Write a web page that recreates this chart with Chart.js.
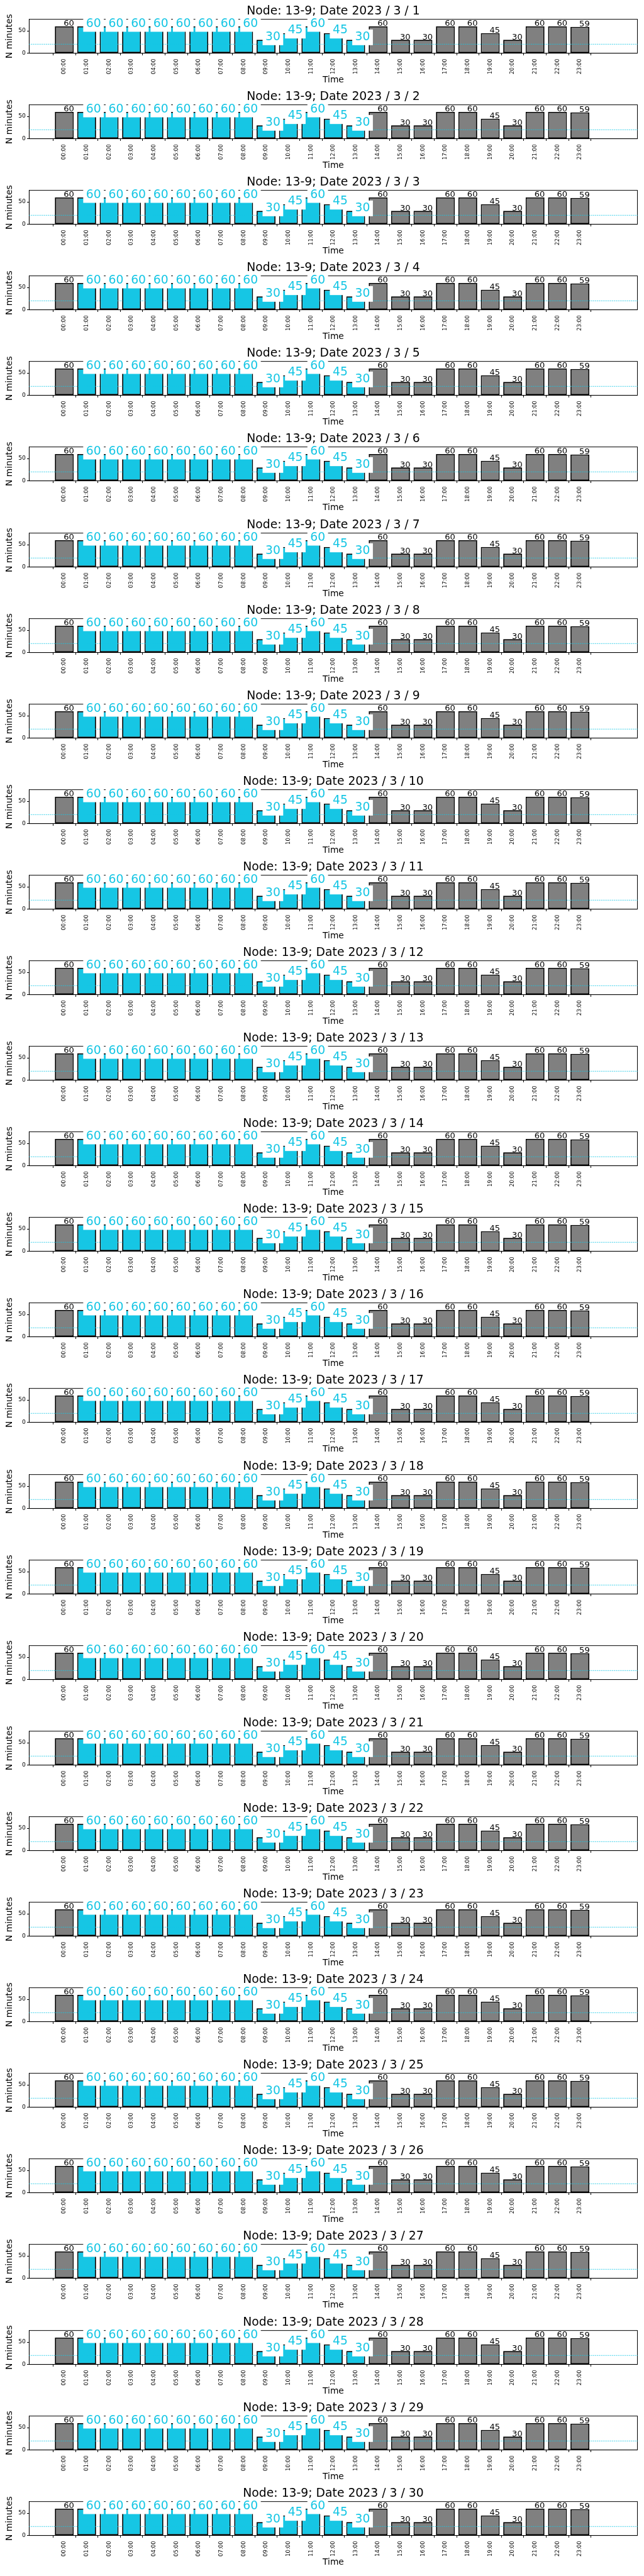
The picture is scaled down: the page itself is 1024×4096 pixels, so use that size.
<!DOCTYPE html>
<html>
<head>
<meta charset="utf-8">
<script src="https://cdn.jsdelivr.net/npm/chart.js@4"></script>
<style>
  html, body { margin: 0; padding: 0; background: #fff; }
  #charts { position: relative; width: 1024px; height: 4096px; }
  .panel { position: absolute; left: 0; width: 1024px; height: 136px; }
</style>
</head>
<body>
<div id="charts"></div>
<script>
const node = '13-9';
const days = [1, 2, 3, 4, 5, 6, 7, 8, 9, 10, 11, 12, 13, 14, 15,
              16, 17, 18, 19, 20, 21, 22, 23, 24, 25, 26, 27, 28, 29, 30];
const hours = ['00:00', '01:00', '02:00', '03:00', '04:00', '05:00', '06:00', '07:00',
               '08:00', '09:00', '10:00', '11:00', '12:00', '13:00', '14:00', '15:00',
               '16:00', '17:00', '18:00', '19:00', '20:00', '21:00', '22:00', '23:00'];
const minutes = [60, 60, 60, 60, 60, 60, 60, 60, 60, 30, 45, 60,
                 45, 30, 60, 30, 30, 60, 60, 45, 30, 60, 60, 59];
// hours drawn in cyan with a boxed label
const flagged = [0, 1, 1, 1, 1, 1, 1, 1, 1, 1, 1, 1,
                 1, 1, 0, 0, 0, 0, 0, 0, 0, 0, 0, 0];
const threshold = 20;
const yTicks = [0, 50];
const yMax = 76;

const S = 0.682;
const BAND = 199.55 * S;
const CYAN = '#16c6e4';
const GREY = '#808080';
const FONT = "'DejaVu Sans', sans-serif";

Chart.defaults.font.family = FONT;
Chart.defaults.color = '#000';

// frame, dotted reference line and bar labels
const overlay = {
    id: 'overlay',
    beforeDatasetsDraw(chart) {
        const { ctx, chartArea: a } = chart;
        ctx.save();
        ctx.strokeStyle = '#000';
        ctx.lineWidth = 1;
        ctx.strokeRect(a.left, a.top, a.right - a.left, a.bottom - a.top);
        ctx.restore();
    },
    afterDatasetsDraw(chart) {
        const { ctx, chartArea: a, scales } = chart;
        const bars = chart.getDatasetMeta(0).data;
        ctx.save();
        const ty = scales.y.getPixelForValue(threshold);
        ctx.strokeStyle = CYAN;
        ctx.lineWidth = 1.3;
        ctx.setLineDash([1.2, 1.8]);
        ctx.beginPath();
        ctx.moveTo(a.left, ty);
        ctx.lineTo(a.right, ty);
        ctx.stroke();
        ctx.setLineDash([]);

        ctx.textAlign = 'left';
        ctx.textBaseline = 'alphabetic';
        bars.forEach((bar, i) => {
            const txt = String(minutes[i]);
            if (flagged[i]) {
                ctx.fillStyle = '#fff';
                ctx.fillRect(bar.x - 5.5, bar.y - 16.5, 32.8, 25);
                ctx.fillStyle = CYAN;
                ctx.font = '18.8px ' + FONT;
                ctx.fillText(txt, bar.x - 1, bar.y + 0.5);
            } else {
                ctx.fillStyle = '#000';
                ctx.font = '13.1px ' + FONT;
                ctx.fillText(txt, bar.x - 1, bar.y - 0.7);
            }
        });
        ctx.restore();
    }
};

const host = document.getElementById('charts');

days.forEach((day, k) => {
    const wrap = document.createElement('div');
    wrap.className = 'panel';
    wrap.style.top = (k * BAND) + 'px';
    const cv = document.createElement('canvas');
    cv.width = 1024;
    cv.height = 136;
    wrap.appendChild(cv);
    host.appendChild(wrap);

    new Chart(cv, {
        type: 'bar',
        data: {
            datasets: [{
                data: minutes.map((v, i) => ({ x: i, y: v })),
                backgroundColor: flagged.map(f => f ? CYAN : GREY),
                borderColor: '#000',
                borderWidth: 1.8,
                borderSkipped: false,
                barPercentage: 0.84,
                categoryPercentage: 1.0
            }]
        },
        options: {
            responsive: false,
            animation: false,
            events: [],
            layout: { padding: { left: 0, right: 10.5, top: 0, bottom: 0 } },
            plugins: {
                legend: { display: false },
                tooltip: { enabled: false },
                title: {
                    display: true,
                    fullSize: false,
                    text: `Node: ${node}; Date 2023 / 3 / ${day}`,
                    color: '#000',
                    font: { size: 18.8, weight: 'normal' },
                    padding: { top: 7.1, bottom: 1 }
                }
            },
            scales: {
                x: {
                    type: 'linear',
                    min: -1,
                    max: 25,
                    afterBuildTicks: ax => { ax.ticks = hours.map((h, i) => ({ value: i })); },
                    afterFit: ax => { ax.height = 51.4; },
                    ticks: {
                        callback: (v, i) => hours[i],
                        autoSkip: false,
                        minRotation: 90,
                        maxRotation: 90,
                        padding: 5.4,
                        font: { size: 8.5 },
                        color: '#000'
                    },
                    grid: { drawOnChartArea: false, drawTicks: true, tickLength: 3.4, tickColor: '#000', tickWidth: 1 },
                    border: { display: true, color: '#000', width: 1 },
                    title: { display: true, text: 'Time', color: '#000', font: { size: 13.8 }, padding: { top: 0, bottom: 0 } }
                },
                y: {
                    min: 0,
                    max: yMax,
                    afterBuildTicks: ax => { ax.ticks = yTicks.map(v => ({ value: v })); },
                    afterFit: ax => { ax.width = 46.4; },
                    ticks: { padding: 2.1, font: { size: 9.2 }, color: '#000' },
                    grid: { drawOnChartArea: false, drawTicks: true, tickLength: 3.4, tickColor: '#000', tickWidth: 1 },
                    border: { display: true, color: '#000', width: 1 },
                    title: { display: true, text: 'N minutes', color: '#000', font: { size: 13.8 }, padding: { top: 6.7, bottom: 0 } }
                }
            }
        },
        plugins: [overlay]
    });
});
</script>
</body>
</html>
